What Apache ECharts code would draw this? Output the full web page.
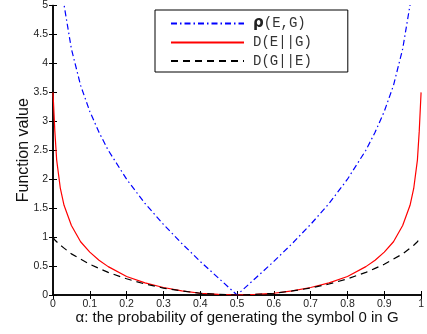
<!DOCTYPE html>
<html>
<head>
<meta charset="utf-8">
<script src="https://cdn.jsdelivr.net/npm/echarts@6/dist/echarts.min.js"></script>
<style>
  html, body { margin: 0; padding: 0; background: #fff; }
  #chart { width: 427px; height: 334px; }
</style>
</head>
<body>
<div id="chart"></div>
<script>
// alpha sample points (x axis)
const alpha = [0, 0.005, 0.01, 0.02, 0.03, 0.05, 0.075, 0.1, 0.125, 0.15, 0.2, 0.25, 0.3, 0.35, 0.4, 0.45, 0.5,
  0.55, 0.6, 0.65, 0.7, 0.75, 0.8, 0.85, 0.875, 0.9, 0.925, 0.95, 0.97, 0.98, 0.99, 0.995, 1];

// rho(E,G) - blue dash-dot, runs off the top near both ends
const rhoEG = [null, null, null, 5.61, 5.01, 4.25, 3.62, 3.17, 2.81, 2.50, 2.00, 1.58, 1.22, 0.89, 0.58, 0.29, 0,
  0.29, 0.58, 0.89, 1.22, 1.58, 2.00, 2.50, 2.81, 3.17, 3.62, 4.25, 5.01, 5.61, null, null, null];

// D(E||G) - red solid
const dEG = [3.50, 2.83, 2.33, 1.84, 1.55, 1.20, 0.92, 0.74, 0.60, 0.49, 0.32, 0.21, 0.13, 0.07, 0.03, 0.01, 0,
  0.01, 0.03, 0.07, 0.13, 0.21, 0.32, 0.49, 0.60, 0.74, 0.92, 1.20, 1.55, 1.84, 2.33, 2.83, 3.50];

// D(G||E) - black dashed
const dGE = [1.00, 0.95, 0.92, 0.86, 0.81, 0.71, 0.62, 0.53, 0.46, 0.39, 0.28, 0.19, 0.12, 0.07, 0.03, 0.01, 0,
  0.01, 0.03, 0.07, 0.12, 0.19, 0.28, 0.39, 0.46, 0.53, 0.62, 0.71, 0.81, 0.86, 0.92, 0.95, 1.00];

const seriesNames = ['ρ(E,G)', 'D(E||G)', 'D(G||E)'];
const xTitle = 'α: the probability of generating the symbol 0 in G';
const yTitle = 'Function value';

const pairs = vals => alpha.map((a, i) => [a, vals[i]]);

const font = '"Liberation Sans", Arial, sans-serif';
const axisLine = { show: true, lineStyle: { color: '#000', width: 1.5 } };
const tick = { show: true, inside: true, length: 4, lineStyle: { color: '#000' } };
const label = { color: '#222', fontFamily: font, fontSize: 10.5 };

const chart = echarts.init(document.getElementById('chart'), null, { renderer: 'canvas' });
chart.setOption({
  animation: false,
  backgroundColor: '#fff',
  grid: { left: 53, right: 3, top: 3, bottom: 39 },
  legend: {
    orient: 'vertical',
    left: 155, top: 10,
    padding: [6, 36, 4, 15],
    itemWidth: 73, itemHeight: 14, itemGap: 4.5,
    itemStyle: { opacity: 0 },
    backgroundColor: '#fff', borderColor: '#000', borderWidth: 1,
    formatter: name => name.startsWith('ρ') ? '{r|ρ}' + name.slice(1) : name,
    textStyle: {
      fontFamily: '"Liberation Mono", monospace', fontSize: 14, color: '#333', padding: [0, 0, 0, 4],
      rich: { r: { fontFamily: '"DejaVu Sans", sans-serif', fontWeight: 'bold', fontSize: 15, color: '#222' } }
    },
    data: seriesNames
  },
  xAxis: [{
    type: 'value', min: 0, max: 1, interval: 0.1,
    name: xTitle, nameLocation: 'middle', nameGap: 15, nameMoveOverlap: false,
    nameTextStyle: { fontFamily: font, fontSize: 15, color: '#111' },
    axisLine, axisTick: tick, splitLine: { show: false },
    axisLabel: { ...label, margin: 4, formatter: v => String(+v.toFixed(1)) }
  }, {
    type: 'value', min: 0, max: 1, interval: 0.1, position: 'top',
    axisLine, axisTick: tick, splitLine: { show: false }, axisLabel: { show: false }
  }],
  yAxis: [{
    type: 'value', min: 0, max: 5, interval: 0.5,
    name: yTitle, nameLocation: 'middle', nameGap: 21, nameMoveOverlap: false,
    nameTextStyle: { fontFamily: font, fontSize: 16, color: '#111' },
    axisLine, axisTick: tick, splitLine: { show: false },
    axisLabel: { ...label, margin: 5 }
  }, {
    type: 'value', min: 0, max: 5, interval: 0.5, position: 'right',
    axisLine, axisTick: tick, splitLine: { show: false }, axisLabel: { show: false }
  }],
  series: [{
    name: seriesNames[0], type: 'line', data: pairs(rhoEG), symbol: 'none', clip: true,
    lineStyle: { color: '#0000ff', width: 1.2, type: [6, 3, 1.5, 3] }, itemStyle: { color: '#0000ff' }
  }, {
    name: seriesNames[1], type: 'line', data: pairs(dEG), symbol: 'none', clip: true,
    lineStyle: { color: '#ff0000', width: 1.2 }, itemStyle: { color: '#ff0000' }
  }, {
    name: seriesNames[2], type: 'line', data: pairs(dGE), symbol: 'none', clip: true,
    lineStyle: { color: '#000', width: 1.2, type: [7, 5] }, itemStyle: { color: '#000' }
  }]
});
</script>
</body>
</html>
